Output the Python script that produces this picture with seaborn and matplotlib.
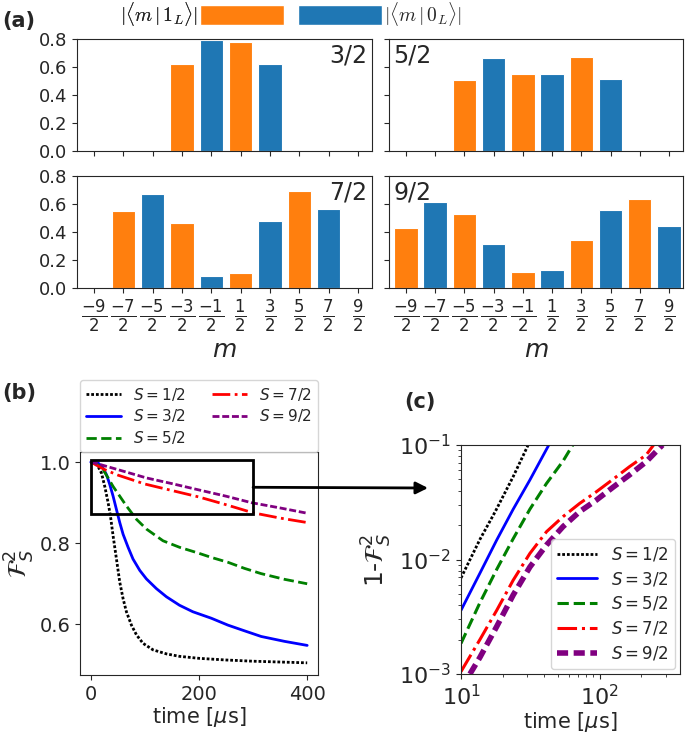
import pandas as pd
import matplotlib
matplotlib.use("Agg")
import matplotlib.pyplot as plt
from matplotlib.patches import Patch, Rectangle, ConnectionPatch
import seaborn as sns

sns.set_style("ticks")

ORANGE = "#ff7f0e"
BLUE = "#1f77b4"

# ---- panel (a): |<m|1_L>| and |<m|0_L>| amplitudes ----
m_order = ["-9/2", "-7/2", "-5/2", "-3/2", "-1/2", "1/2", "3/2", "5/2", "7/2", "9/2"]
m_ticklabels = [r"$\frac{-9}{2}$", r"$\frac{-7}{2}$", r"$\frac{-5}{2}$", r"$\frac{-3}{2}$",
                r"$\frac{-1}{2}$", r"$\frac{1}{2}$", r"$\frac{3}{2}$", r"$\frac{5}{2}$",
                r"$\frac{7}{2}$", r"$\frac{9}{2}$"]

m_s32 = ["-3/2", "-1/2", "1/2", "3/2"]
amp_s32 = [0.62, 0.79, 0.78, 0.62]
state_s32 = ["1L", "0L", "1L", "0L"]

m_s52 = ["-5/2", "-3/2", "-1/2", "1/2", "3/2", "5/2"]
amp_s52 = [0.51, 0.665, 0.552, 0.552, 0.671, 0.516]
state_s52 = ["1L", "0L", "1L", "0L", "1L", "0L"]

m_s72 = ["-7/2", "-5/2", "-3/2", "-1/2", "1/2", "3/2", "5/2", "7/2"]
amp_s72 = [0.549, 0.672, 0.462, 0.083, 0.104, 0.478, 0.691, 0.561]
state_s72 = ["1L", "0L", "1L", "0L", "1L", "0L", "1L", "0L"]

m_s92 = m_order
amp_s92 = [0.426, 0.611, 0.530, 0.317, 0.114, 0.130, 0.341, 0.559, 0.639, 0.445]
state_s92 = ["1L", "0L", "1L", "0L", "1L", "0L", "1L", "0L", "1L", "0L"]

# ---- panel (b): F_S^2 vs time [us] ----
t_b1 = [0, 7, 13.5, 19.7, 25.8, 32, 36.3, 41.2, 47.4, 53.5, 59.7, 65.8, 75.1, 84.4, 96.6,
        115, 140, 164, 201, 250, 300, 350, 400]
f_b1 = [1.0, 0.998, 0.989, 0.973, 0.94, 0.90, 0.867, 0.818, 0.761, 0.704, 0.663, 0.631,
        0.598, 0.574, 0.553, 0.537, 0.527, 0.521, 0.516, 0.512, 0.509, 0.507, 0.505]
t_b3 = [0, 13.5, 22.8, 29, 35, 41.2, 47.4, 53.5, 59.7, 68.9, 78, 90.5, 102.8, 121.3,
        139.7, 164, 188.6, 222.8, 253.5, 284, 315, 358, 400]
f_b3 = [1.0, 0.998, 0.985, 0.969, 0.945, 0.916, 0.883, 0.851, 0.822, 0.79, 0.761, 0.733,
        0.712, 0.688, 0.668, 0.647, 0.631, 0.615, 0.598, 0.584, 0.57, 0.558, 0.548]
t_b5 = [0, 13.5, 22.8, 32, 41.2, 53.5, 65.8, 84.4, 102.8, 133.5, 164, 198, 222.8, 253.5,
        284, 315, 358, 400]
f_b5 = [1.0, 0.993, 0.981, 0.961, 0.94, 0.916, 0.892, 0.859, 0.835, 0.806, 0.79, 0.776,
        0.765, 0.753, 0.738, 0.725, 0.711, 0.70]
t_b7 = [0, 10, 25, 50, 100, 150, 200, 250, 300, 350, 400]
f_b7 = [1.0, 0.993, 0.982, 0.968, 0.946, 0.930, 0.914, 0.895, 0.875, 0.862, 0.851]
t_b9 = [0, 10, 41, 103, 150, 198, 250, 297, 350, 400]
f_b9 = [1.0, 0.997, 0.985, 0.961, 0.947, 0.932, 0.916, 0.90, 0.887, 0.874]

# ---- panel (c): 1 - F_S^2 vs time (log-log) ----
t_c1 = [10, 13.7, 17.6, 23.8, 30.5]
e_c1 = [6.9e-3, 0.0150, 0.026, 0.053, 0.1]
t_c3 = [10, 13.7, 18.1, 23.8, 31.4, 43]
e_c3 = [3.6e-3, 7.6e-3, 0.0148, 0.0275, 0.0495, 0.1]
t_c5 = [10, 13.7, 18.1, 23.8, 31.4, 41.3, 54.5, 64]
e_c5 = [1.85e-3, 4.2e-3, 8.2e-3, 0.0152, 0.0275, 0.046, 0.0725, 0.1]
t_c7 = [10, 13.7, 18.1, 23.8, 31.4, 41.4, 54.5, 71.8, 94.6, 124.7, 164, 216.6, 245]
e_c7 = [1.05e-3, 2.0e-3, 3.6e-3, 6.6e-3, 0.0113, 0.0175, 0.0237, 0.0309, 0.039, 0.0501,
        0.0646, 0.0818, 0.1]
t_c9 = [11.6, 13.7, 18.1, 23.8, 31.4, 41.4, 54.5, 71.8, 94.6, 124.7, 164, 216.6, 284]
e_c9 = [1.0e-3, 1.4e-3, 2.6e-3, 4.9e-3, 8.6e-3, 0.0134, 0.0194, 0.0262, 0.033, 0.0427,
        0.0547, 0.0714, 0.1]

spin_labels = [r"$S=1/2$", r"$S=3/2$", r"$S=5/2$", r"$S=7/2$", r"$S=9/2$"]
line_colors = ["black", "blue", "green", "red", "purple"]

fig = plt.figure(figsize=(6.85, 7.34), dpi=100)

W, H = 685.0, 734.0
def box(l, t, r, b):
    return [l / W, (H - b) / H, (r - l) / W, (b - t) / H]

ax_a = [fig.add_axes(box(77, 39, 372, 151)), fig.add_axes(box(389, 39, 683, 151)),
        fig.add_axes(box(77, 176, 372, 288)), fig.add_axes(box(389, 176, 683, 288))]
panels = [(m_s32, amp_s32, state_s32, "3/2"), (m_s52, amp_s52, state_s52, "5/2"),
          (m_s72, amp_s72, state_s72, "7/2"), (m_s92, amp_s92, state_s92, "9/2")]

for i, (ax, (ms, amps, states, lab)) in enumerate(zip(ax_a, panels)):
    df = pd.DataFrame({"m": ms, "amp": amps, "state": states})
    sns.barplot(data=df, x="m", y="amp", hue="state", order=m_order, hue_order=["1L", "0L"],
                palette=[ORANGE, BLUE], dodge=False, width=0.8, saturation=1,
                edgecolor="white", linewidth=0.8, legend=False, ax=ax)
    ax.set_ylim(0, 0.8)
    ax.set_xlim(-0.58, 9.48)
    ax.set_yticks([0, 0.2, 0.4, 0.6, 0.8])
    ax.set_xticks(range(10))
    ax.set_ylabel("")
    ax.set_xlabel("")
    for s in ax.spines.values():
        s.set_visible(True)
    ax.tick_params(labelsize=13)
    if i < 2:
        ax.set_xticklabels([])
    else:
        ax.set_xticklabels(m_ticklabels, fontsize=17)
        ax.set_xlabel(r"$m$", fontsize=18, labelpad=2)
    if i % 2 == 1:
        ax.set_yticklabels([])
    else:
        ax.set_yticklabels(["0.0", "0.2", "0.4", "0.6", "0.8"])
    if lab in ("3/2", "7/2"):
        ax.text(0.985, 0.96, lab, transform=ax.transAxes, ha="right", va="top", fontsize=17)
    else:
        ax.text(0.015, 0.96, lab, transform=ax.transAxes, ha="left", va="top", fontsize=17)

# legend on top of panel (a)
top_prop = {"size": 14, "math_fontfamily": "cm"}
leg1 = fig.legend([Patch(facecolor=ORANGE)], [r"$|\langle m\,|\,1_L\rangle|$"], loc="center right",
                  bbox_to_anchor=(284 / W, 1 - 14 / H), frameon=False, markerfirst=False,
                  prop=top_prop, handlelength=4.3, handleheight=1.15, handletextpad=0.12,
                  borderpad=0, borderaxespad=0)
fig.add_artist(leg1)
fig.legend([Patch(facecolor=BLUE)], [r"$|\langle m\,|\,0_L\rangle|$"], loc="center left",
           bbox_to_anchor=(298 / W, 1 - 14 / H), frameon=False, markerfirst=True,
           prop=top_prop, handlelength=4.3, handleheight=1.15, handletextpad=0.12,
           borderpad=0, borderaxespad=0)

# ---- panel (b) ----
ax_b = fig.add_axes(box(80, 452, 318, 675))
b_series = [(t_b1, f_b1), (t_b3, f_b3), (t_b5, f_b5), (t_b7, f_b7), (t_b9, f_b9)]
b_styles = [(0, (1, 0.7)), "-", "--", "-.", (0, (2.5, 1))]
for (t, f), lab, col, ls in zip(b_series, spin_labels, line_colors, b_styles):
    sns.lineplot(x=t, y=f, ax=ax_b, color=col, linestyle=ls, lw=2, label=lab)
ax_b.set_xlim(-20, 420)
ax_b.set_ylim(0.475, 1.025)
ax_b.set_yticks([0.6, 0.8, 1.0])
ax_b.set_xticks([0, 200, 400])
ax_b.tick_params(labelsize=14)
ax_b.set_xlabel(r"time [$\mu$s]", fontsize=15, labelpad=1)
ax_b.set_ylabel(r"$\mathcal{F}_S^2$", fontsize=18, labelpad=2)
for s in ax_b.spines.values():
    s.set_visible(True)
ax_b.add_patch(Rectangle((0, 0.871), 300, 0.134, fill=False, lw=2, ec="black", zorder=5))
ax_b.legend(ncol=2, loc="lower left", bbox_to_anchor=(0, 1.0, 1, 0.3), mode="expand",
            borderaxespad=0, fontsize=11, handlelength=2.3, columnspacing=0.8, labelspacing=0.3)

# ---- panel (c) ----
ax_c = fig.add_axes(box(461, 445, 680, 674))
c_series = [(t_c1, e_c1), (t_c3, e_c3), (t_c5, e_c5), (t_c7, e_c7), (t_c9, e_c9)]
c_styles = [(0, (1, 0.7)), "-", "--", "-.", (0, (2, 1))]
c_widths = [2, 2, 2.2, 2.2, 4]
for (t, e), lab, col, ls, lw in zip(c_series, spin_labels, line_colors, c_styles, c_widths):
    sns.lineplot(x=t, y=e, ax=ax_c, color=col, linestyle=ls, lw=lw, label=lab)
ax_c.set_xscale("log")
ax_c.set_yscale("log")
ax_c.set_xlim(10, 380)
ax_c.set_ylim(1e-3, 1e-1)
ax_c.tick_params(labelsize=16)
ax_c.set_xlabel(r"time [$\mu$s]", fontsize=15, labelpad=1)
ax_c.set_ylabel(r"1-$\mathcal{F}_S^2$", fontsize=18)
for s in ax_c.spines.values():
    s.set_visible(True)
ax_c.legend(loc="lower right", fontsize=12, handlelength=2.4, labelspacing=0.4, borderaxespad=0.3)

# arrow from the box in (b) to (c)
arrow = ConnectionPatch(xyA=(300, 0.938), coordsA=ax_b.transData,
                        xyB=((428 - 461) / 219.0, (674 - 488) / 229.0), coordsB=ax_c.transAxes,
                        arrowstyle="-|>", lw=2, color="black", mutation_scale=18)
fig.add_artist(arrow)

fig.text(2 / W, 1 - 21 / H, "(a)", fontsize=15, fontweight="bold", ha="left", va="center")
fig.text(2 / W, 1 - 393 / H, "(b)", fontsize=15, fontweight="bold", ha="left", va="center")
fig.text(404 / W, 1 - 402 / H, "(c)", fontsize=15, fontweight="bold", ha="left", va="center")

fig.savefig("out.png", dpi=100)
